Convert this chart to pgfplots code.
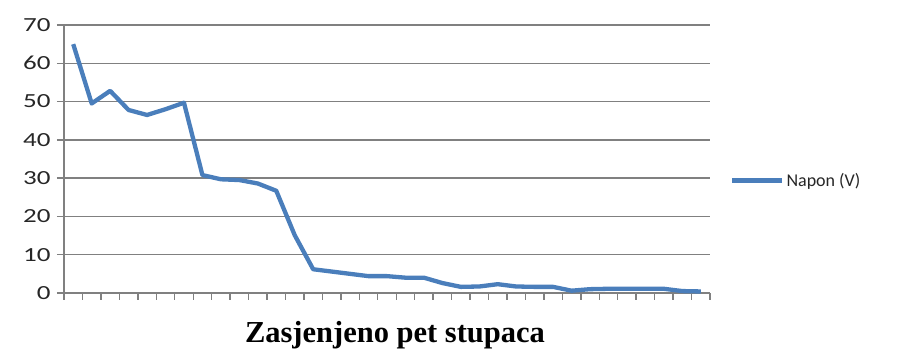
\documentclass[border=0pt]{standalone}
\usepackage{pgfplots}
\pgfplotsset{compat=1.18}
\usepackage{fontspec}
\setmainfont{Carlito}
\newfontfamily\tickfont[FakeStretch=1.35]{Carlito}
\newfontfamily\titlefont{Liberation Serif}
\definecolor{serieblue}{HTML}{4A7EBB}
\definecolor{gridgray}{RGB}{128,128,128}
\pgfplotstableread{
x y
0.5 65
1.5 49.5
2.5 52.8
3.5 47.8
4.5 46.5
5.5 48
6.5 49.7
7.5 30.8
8.5 29.7
9.5 29.5
10.5 28.6
11.5 26.7
12.5 15.1
13.5 6.2
14.5 5.6
15.5 5.0
16.5 4.4
17.5 4.4
18.5 4.0
19.5 4.0
20.5 2.6
21.5 1.6
22.5 1.7
23.5 2.3
24.5 1.7
25.5 1.6
26.5 1.6
27.5 0.6
28.5 1.0
29.5 1.1
30.5 1.1
31.5 1.1
32.5 1.1
33.5 0.5
34.5 0.4
}\napon
\begin{document}
\begin{tikzpicture}
\begin{axis}[
  scale only axis,
  width=646pt, height=268pt,
  xmin=0, xmax=35, ymin=0, ymax=70,
  axis lines=left,
  axis line style={-, draw=gridgray, line width=1.5pt},
  xtick={0,1,...,35},
  xticklabels={},
  ytick={0,10,...,70},
  tick style={draw=gridgray, line width=1.4pt},
  tick align=outside,
  major tick length=7pt,
  ymajorgrids,
  grid style={draw=gridgray, line width=1.5pt},
  /pgf/number format/assume math mode=true,
  yticklabel style={font=\tickfont\fontsize{20}{22}\selectfont, text=black!85, xshift=-3pt},
  xlabel={\titlefont\bfseries\fontsize{30.5}{33}\selectfont Zasjenjeno pet stupaca},
  xlabel style={at={(rel axis cs:0.5,0)}, anchor=base, yshift=-50pt, xshift=8pt},
  legend style={draw=none, fill=none, at={(rel axis cs:1,0.42)}, anchor=west, xshift=20pt,
    inner sep=0pt, font=\fontsize{18}{20}\selectfont, text=black!85},
  legend image code/.code={\draw[#1] (0pt,0pt) -- (50pt,0pt);},
  clip=false,
]
\addplot[serieblue, line width=4.3pt, line join=round] table[x=x,y=y] {\napon};
\addlegendentry{Napon (V)}
\coordinate (ll) at (rel axis cs:0,0);
\coordinate (ur) at (rel axis cs:1,1);
\end{axis}
\pgfresetboundingbox
\path ([shift={(-64pt,-58pt)}]ll) rectangle ([shift={(187pt,25pt)}]ur);
\end{tikzpicture}
\end{document}
